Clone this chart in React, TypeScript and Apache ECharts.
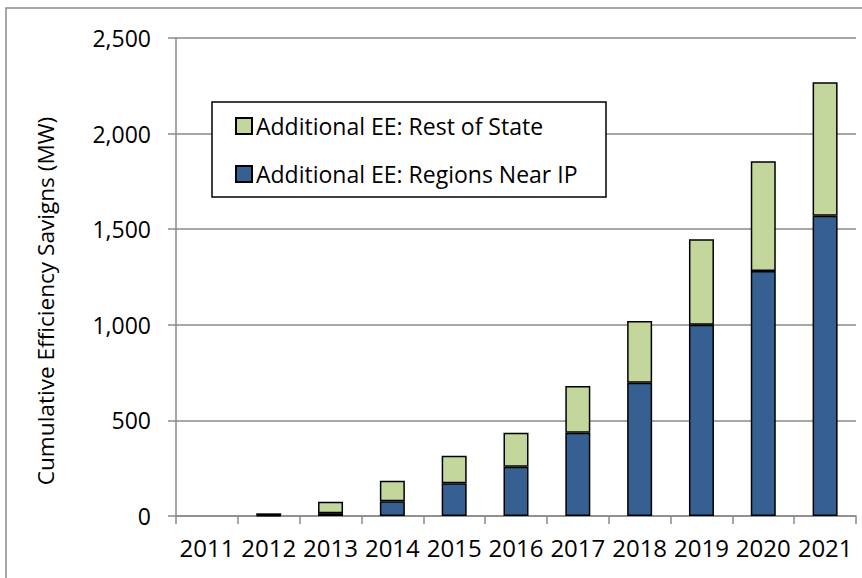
import React, { useEffect, useRef } from "react";
import * as echarts from "echarts";

// Cumulative efficiency savings (MW) by year
const years = ["2011", "2012", "2013", "2014", "2015", "2016", "2017", "2018", "2019", "2020", "2021"];
const regionsNearIP = [0, 3, 15, 77, 171, 258, 436, 697, 1000, 1282, 1570];
const restOfState = [0, 11, 60, 108, 144, 178, 244, 323, 448, 574, 698];
const yTicks = { min: 0, max: 2500, interval: 500 };

const SERIES_NEAR = "Additional EE: Regions Near IP";
const SERIES_REST = "Additional EE: Rest of State";

const FONT = "'Open Sans', 'Noto Sans', sans-serif";
const AXIS_GRAY = "#8a8a8a";

// zero-height segments get no outline so empty years stay blank
const toItems = (values: number[]) =>
  values.map((v) => (v === 0 ? { value: v, itemStyle: { borderWidth: 0 } } : v));

export default function App() {
  const ref = useRef<HTMLDivElement>(null);

  useEffect(() => {
    if (!ref.current) return;
    const chart = echarts.init(ref.current, null, { renderer: "svg" });
    chart.setOption({
      animation: false,
      backgroundColor: "#ffffff",
      textStyle: { fontFamily: FONT },
      grid: { left: 176, right: 6, top: 38, bottom: 62, containLabel: false },
      graphic: [
        {
          type: "rect",
          shape: { x: 6, y: 8, width: 900, height: 620 },
          style: { fill: "none", stroke: AXIS_GRAY, lineWidth: 1.5 },
          silent: true,
          z: -1,
        },
        {
          type: "rect",
          shape: { x: 212, y: 102, width: 394, height: 95 },
          style: { fill: "#ffffff", stroke: "#000000", lineWidth: 1.5 },
          z: 5,
        },
        {
          type: "text",
          x: 45,
          y: 301,
          rotation: Math.PI / 2,
          style: {
            text: "Cumulative Efficiency Savigns (MW)",
            fontFamily: FONT,
            fontSize: 22.6,
            fill: "#000000",
            align: "center",
            verticalAlign: "middle",
          },
        },
      ],
      legend: {
        data: [SERIES_REST, SERIES_NEAR],
        orient: "vertical",
        left: 235,
        top: 114,
        icon: "rect",
        itemWidth: 16,
        itemHeight: 16,
        itemGap: 24,
        padding: 0,
        z: 6,
        textStyle: {
          fontFamily: FONT,
          fontSize: 23,
          lineHeight: 24,
          color: "#000000",
          padding: [0, 0, 0, -1],
        },
      },
      xAxis: {
        type: "category",
        data: years,
        boundaryGap: true,
        axisLine: { show: true, lineStyle: { color: AXIS_GRAY, width: 1.5 } },
        axisTick: { show: true, length: 8, alignWithLabel: false, lineStyle: { color: AXIS_GRAY, width: 1.5 } },
        axisLabel: { interval: 0, margin: 19, fontFamily: FONT, fontSize: 24, color: "#000000" },
      },
      yAxis: {
        type: "value",
        min: yTicks.min,
        max: yTicks.max,
        interval: yTicks.interval,
        axisLine: { show: true, lineStyle: { color: AXIS_GRAY, width: 1.5 } },
        axisTick: { show: true, length: 8, inside: false, lineStyle: { color: AXIS_GRAY, width: 1.5 } },
        splitLine: { show: true, lineStyle: { color: AXIS_GRAY, width: 1.5 } },
        axisLabel: {
          margin: 25,
          fontFamily: FONT,
          fontSize: 23,
          color: "#000000",
          formatter: (v: number) => v.toLocaleString("en-US"),
        },
      },
      series: [
        {
          name: SERIES_NEAR,
          type: "bar",
          stack: "ee",
          data: toItems(regionsNearIP),
          barWidth: 25,
          itemStyle: { color: "#376092", borderColor: "#000000", borderWidth: 1.5 },
        },
        {
          name: SERIES_REST,
          type: "bar",
          stack: "ee",
          data: toItems(restOfState),
          barWidth: 25,
          itemStyle: { color: "#c3d69b", borderColor: "#000000", borderWidth: 1.5 },
        },
      ],
    });
    return () => chart.dispose();
  }, []);

  return <div ref={ref} style={{ width: 862, height: 578, position: "absolute", left: 0, top: 0 }} />;
}
